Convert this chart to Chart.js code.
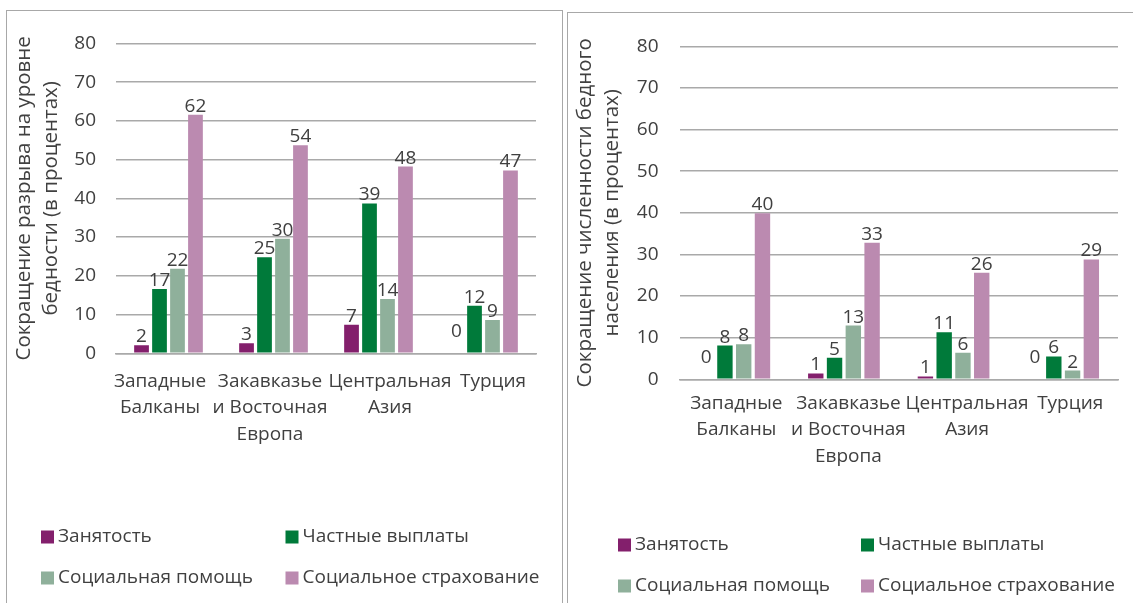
<!DOCTYPE html>
<html lang="ru">
<head>
<meta charset="utf-8">
<title>Сокращение бедности</title>
<script src="https://cdn.jsdelivr.net/npm/chart.js@4.4.1/dist/chart.umd.min.js"></script>
<style>
  html, body { margin: 0; padding: 0; background: #fff; overflow: hidden; }
  body { width: 1133px; height: 603px; position: relative; }
  .panel { position: absolute; border: 1.5px solid #a8a8a8; box-sizing: border-box; }
  #panel-left { left: 6px; top: 10px; width: 557px; height: 700px; }
  #panel-right { left: 567px; top: 12px; width: 600px; height: 700px; }
  .box { position: absolute; }
  #box-left { left: 8px; top: 12px; width: 553px; height: 591px; }
  #box-right { left: 570px; top: 14px; width: 563px; height: 589px; }
</style>
</head>
<body>
<div class="panel" id="panel-left"></div>
<div class="panel" id="panel-right"></div>
<div class="box" id="box-left"><canvas id="gapChart"></canvas></div>
<div class="box" id="box-right"><canvas id="headcountChart"></canvas></div>

<script>
// Регионы (категории)
const regions = [
  ['Западные', 'Балканы'],
  ['Закавказье', 'и Восточная', 'Европа'],
  ['Центральная', 'Азия'],
  ['Турция']
];

const seriesNames = ['Занятость', 'Частные выплаты', 'Социальная помощь', 'Социальное страхование'];
const seriesColors = ['#831f6c', '#007a3a', '#8fb09b', '#bb8ab0'];

// Левый график: сокращение разрыва на уровне бедности (%)
const gapEmployment = [2.1, 2.6, 7.4, 0];
const gapPrivate    = [16.6, 24.8, 38.7, 12.3];
const gapAssistance = [21.8, 29.6, 14.0, 8.6];
const gapInsurance  = [61.6, 53.7, 48.2, 47.2];

// Правый график: сокращение численности бедного населения (%)
const hcEmployment = [0, 1.4, 0.7, 0];
const hcPrivate    = [8.1, 5.2, 11.3, 5.5];
const hcAssistance = [8.4, 12.9, 6.4, 2.1];
const hcInsurance  = [39.9, 32.8, 25.6, 28.8];

const yTicks = [0, 10, 20, 30, 40, 50, 60, 70, 80];

const textColor = '#404040';
const gridColor = '#a9a9a9';
const fontStack = '"Open Sans", "Noto Sans", sans-serif';

Chart.defaults.font.family = fontStack;
Chart.defaults.font.size = 19;
Chart.defaults.color = textColor;

// Data labels above every bar (rounded like in the source)
const barLabels = {
  id: 'barLabels',
  afterDatasetsDraw(chart) {
    const ctx = chart.ctx;
    ctx.save();
    ctx.font = '19px ' + fontStack;
    ctx.fillStyle = textColor;
    ctx.textAlign = 'center';
    ctx.textBaseline = 'alphabetic';
    chart.data.datasets.forEach((ds, i) => {
      const meta = chart.getDatasetMeta(i);
      meta.data.forEach((bar, j) => {
        const v = ds.data[j];
        const lift = v === 0 ? 16 : 3;
        ctx.fillText(String(Math.round(v)), bar.x, bar.y - lift);
      });
    });
    ctx.restore();
  }
};

// Category labels: Excel nudges them sideways so they don't collide
const xLabels = {
  id: 'xLabels',
  afterDraw(chart, args, opts) {
    const xs = chart.scales.x;
    const ctx = chart.ctx;
    ctx.save();
    ctx.font = '19px ' + fontStack;
    ctx.fillStyle = textColor;
    ctx.textAlign = 'center';
    ctx.textBaseline = 'middle';
    chart.data.labels.forEach((lines, i) => {
      const x = xs.getPixelForValue(i) + opts.shifts[i];
      lines.forEach((t, k) => {
        ctx.fillText(t, x, chart.chartArea.bottom + opts.pad + opts.lineHeight * (k + 0.5));
      });
    });
    ctx.restore();
  }
};

// Legend in two columns, like the Excel original
const gridLegend = {
  id: 'gridLegend',
  afterDraw(chart, args, opts) {
    const ctx = chart.ctx;
    ctx.save();
    ctx.font = '19px ' + fontStack;
    ctx.textBaseline = 'middle';
    ctx.textAlign = 'left';
    chart.data.datasets.forEach((ds, i) => {
      const col = i % 2;
      const row = Math.floor(i / 2);
      const bx = opts.cols[col];
      const cy = opts.rows[row];
      ctx.fillStyle = ds.backgroundColor;
      ctx.fillRect(bx, cy - 6.5, 13, 13);
      ctx.fillStyle = textColor;
      ctx.fillText(ds.label, bx + 17, cy);
    });
    ctx.restore();
  }
};

function makeDatasets(values) {
  return values.map((arr, i) => ({
    label: seriesNames[i],
    data: arr,
    backgroundColor: seriesColors[i],
    categoryPercentage: 0.685,
    barPercentage: 0.82
  }));
}

function makeChart(canvasId, values, title, geo) {
  const ctx = document.getElementById(canvasId);
  return new Chart(ctx, {
    type: 'bar',
    data: {
      labels: regions,
      datasets: makeDatasets(values)
    },
    options: {
      responsive: true,
      maintainAspectRatio: false,
      animation: false,
      events: [],
      layout: {
        padding: { top: geo.top, right: geo.right, bottom: 0, left: 0 }
      },
      plugins: {
        legend: { display: false },
        tooltip: { enabled: false },
        gridLegend: { cols: geo.legendCols, rows: geo.legendRows },
        xLabels: { shifts: geo.labelShifts, pad: geo.xPad, lineHeight: 26.5 }
      },
      scales: {
        x: {
          grid: { display: false, drawTicks: false },
          border: { display: true, color: gridColor, width: 1.5 },
          ticks: { display: false },
          afterFit(scale) { scale.height = geo.xHeight; }
        },
        y: {
          min: 0,
          max: 80,
          afterBuildTicks(scale) { scale.ticks = yTicks.map(v => ({ value: v })); },
          grid: { color: gridColor, lineWidth: 1.5, drawTicks: false },
          border: { display: false },
          ticks: { padding: geo.yPad, font: { size: 19 } },
          title: {
            display: true,
            text: title,
            font: { size: 20.5, lineHeight: 1.34 },
            padding: { top: geo.titlePad, bottom: 0 }
          },
          afterFit(scale) { scale.width = geo.yWidth; }
        }
      }
    },
    plugins: [barLabels, xLabels, gridLegend]
  });
}

async function init() {
  try { await document.fonts.load('19px "Open Sans"'); } catch (e) {}

  makeChart('gapChart',
    [gapEmployment, gapPrivate, gapAssistance, gapInsurance],
    ['Сокращение разрыва на уровне', 'бедности (в процентах)'],
    {
      top: 26, right: 25, yWidth: 108, xHeight: 249.7,
      xPad: 15, yPad: 20, titlePad: 2,
      labelShifts: [-8.5, -3.5, 11.5, 9.5],
      legendCols: [33, 277.5], legendRows: [525, 566]
    });

  makeChart('headcountChart',
    [hcEmployment, hcPrivate, hcAssistance, hcInsurance],
    ['Сокращение численности бедного', 'населения (в процентах)'],
    {
      top: 25, right: 15, yWidth: 109.5, xHeight: 223.7,
      xPad: 11, yPad: 21, titlePad: 1,
      labelShifts: [2, 4.5, 13.5, 7],
      legendCols: [48, 291], legendRows: [531, 572]
    });
}

init();
</script>
</body>
</html>
